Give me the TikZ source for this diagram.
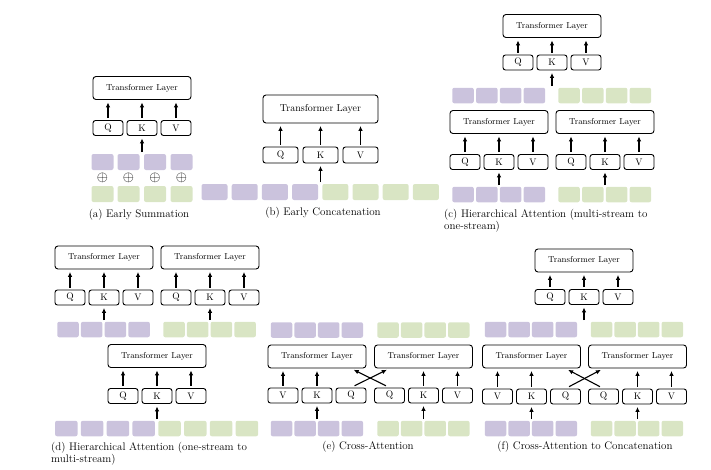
\documentclass[tikz,border=0pt]{standalone}
\usetikzlibrary{arrows.meta}

\definecolor{lilac}{RGB}{203,195,221}
\definecolor{sage}{RGB}{217,229,196}

\tikzset{
	layer/.style={draw, rounded corners=3pt, line width=0.9pt, minimum width=98pt, minimum height=23pt, inner sep=0pt, font=\fontsize{8.6}{10}\selectfont},
	key/.style={draw, rounded corners=2.5pt, line width=0.9pt, minimum width=30pt, minimum height=15pt, inner sep=0pt, font=\fontsize{9.5}{10}\selectfont},
	tokp/.style={fill=lilac, rounded corners=2pt, minimum width=21.5pt, minimum height=15.5pt, inner sep=0pt},
	tokg/.style={tokp, fill=sage},
	up/.style={-{Latex[length=5pt,width=4.6pt]}, line width=1.1pt, shorten <=2pt, shorten >=2.5pt},
	subcap/.style={font=\fontsize{11}{12.5}\selectfont, inner sep=0pt}
}

\begin{document}
\begin{tikzpicture}[x=1pt, y=-1pt]

	\useasboundingbox (0,0) rectangle (711,469);

	\foreach \n/\x/\y/\d/\la/\lb/\lc in {a/142/88/40/Q/K/V, c/552/26/36.5/Q/K/V, cl/499/122/40/Q/K/V, cr/605/122/40/Q/K/V, dl/104/257.5/40/Q/K/V, dr/210/257.5/40/Q/K/V, d/157/356/40/Q/K/V, el/317/356.5/39/V/K/Q, er/423.5/356.5/39/Q/K/V, f/584/260.5/36.5/Q/K/V, fl/531.5/356.5/40/V/K/Q, fr/637.5/356.5/40/Q/K/V} {
		\node[layer] (\n) at (\x,\y) {Transformer Layer};
		\node[key] (\n1) at (\x-34,\y+\d) {\la};
		\node[key] (\n2) at (\x,\y+\d) {\lb};
		\node[key] (\n3) at (\x+34,\y+\d) {\lc};
	}

	\node[layer, minimum width=115pt, minimum height=28pt, font=\fontsize{10}{12}\selectfont] (b) at (320.5,109) {Transformer Layer};
	\node[key, minimum width=35pt, minimum height=16pt] (b1) at (280.5,155) {Q};
	\node[key, minimum width=35pt, minimum height=16pt] (b2) at (320.5,155) {K};
	\node[key, minimum width=35pt, minimum height=16pt] (b3) at (360.5,155) {V};

	\foreach \n/\ks in {a/{1,2,3}, b/{1,2,3}, c/{1,2,3}, cl/{1,2,3}, cr/{1,2,3}, dl/{1,2,3}, dr/{1,2,3}, d/{1,2,3}, el/{1,2}, er/{2,3}, f/{1,2,3}, fl/{1,2}, fr/{2,3}} {
		\foreach \k in \ks {
			\draw[up] (\n\k.north) -- (\n\k.north |- \n.south);
		}
	}

	\draw[up, shorten <=4pt, shorten >=3pt] (el3.north) -- (er1.north |- er.south);
	\draw[up, shorten <=4pt, shorten >=3pt] (er1.north) -- (el3.north |- el.south);
	\draw[up, shorten <=4pt, shorten >=3pt] (fl3.north) -- (fr1.north |- fr.south);
	\draw[up, shorten <=4pt, shorten >=3pt] (fr1.north) -- (fl3.north |- fl.south);

	\foreach \i/\x in {1/102.5, 2/128.5, 3/155, 4/181.5} {
		\node[tokp, minimum width=22pt, minimum height=16pt] (ap\i) at (\x,162) {};
		\node[inner sep=0pt, font=\fontsize{14}{14}\selectfont] (ao\i) at (\x,178) {$\oplus$};
		\node[tokg, minimum width=22pt, minimum height=16pt] (ag\i) at (\x,194) {};
	}

	\foreach \i in {0,...,3} {
		\node[tokp, minimum width=26pt, minimum height=16pt] (bp\i) at (214.5+30.2*\i,192) {};
		\node[tokg, minimum width=26pt, minimum height=16pt] (bg\i) at (335.3+30.2*\i,192) {};
	}

	\foreach \i in {0,...,3} {
		\node[tokp] (cmp\i) at (463+23.8*\i,95.5) {};
		\node[tokg] (cmg\i) at (569+23.8*\i,95.5) {};
		\node[tokp] (cbp\i) at (463+23.8*\i,194.5) {};
		\node[tokg] (cbg\i) at (569+23.8*\i,194.5) {};
	}

	\foreach \i in {0,...,3} {
		\node[tokp] (dmp\i) at (68+23.7*\i,329.5) {};
		\node[tokg] (dmg\i) at (174+23.7*\i,329.5) {};
		\node[tokp, minimum width=22.5pt] (dbp\i) at (66.3+25.8*\i,428.5) {};
		\node[tokg, minimum width=22.5pt] (dbg\i) at (169.5+25.8*\i,428.5) {};
	}

	\foreach \i in {0,...,3} {
		\node[tokp] (etp\i) at (281.5+23.6*\i,330) {};
		\node[tokg] (etg\i) at (388+23.6*\i,330) {};
		\node[tokp] (ebp\i) at (281.5+23.6*\i,428.5) {};
		\node[tokg] (ebg\i) at (388+23.6*\i,428.5) {};
	}

	\foreach \i in {0,...,3} {
		\node[tokp] (fmp\i) at (495.5+23.6*\i,329.5) {};
		\node[tokg] (fmg\i) at (601.5+23.6*\i,329.5) {};
		\node[tokp] (fbp\i) at (495.5+23.6*\i,428.5) {};
		\node[tokg] (fbg\i) at (601.5+23.6*\i,428.5) {};
	}

	\coordinate (ain) at (142,154);
	\coordinate (bin) at (320.5,184);
	\coordinate (cin) at (552,88);
	\coordinate (clin) at (499,187);
	\coordinate (crin) at (605,187);
	\coordinate (dlin) at (104,322);
	\coordinate (drin) at (210,322);
	\coordinate (din) at (157,421);
	\coordinate (elin) at (317,421);
	\coordinate (erin) at (423.5,421);
	\coordinate (fin) at (584,322);
	\coordinate (flin) at (531.5,421);
	\coordinate (frin) at (637.5,421);
	\foreach \n in {a,b,c,cl,cr,dl,dr,d,el,er,f,fl,fr} {
		\draw[up] (\n in) -- (\n2.south);
	}

	\node[subcap] (acap) at (139,215) {(a) Early Summation};
	\node[subcap] (bcap) at (323,213) {(b) Early Concatenation};
	\node[subcap, anchor=north west, text width=211pt, align=left] (ccap) at (444,209) {\makebox[211pt][s]{(c) Hierarchical Attention (multi-stream to}\\one-stream)};
	\node[subcap, anchor=north west, text width=209pt, align=left] (dcap) at (51,442) {\makebox[209pt][s]{(d) Hierarchical Attention (one-stream to}\\multi-stream)};
	\node[subcap] (ecap) at (368,447) {(e) Cross-Attention};
	\node[subcap] (fcap) at (585,447) {(f) Cross-Attention to Concatenation};

\end{tikzpicture}
\end{document}
